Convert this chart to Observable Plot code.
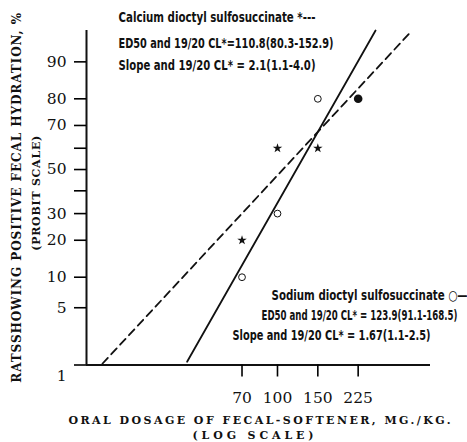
<!DOCTYPE html>
<html>
<head>
<meta charset="utf-8">
<script src="https://cdn.jsdelivr.net/npm/d3@7"></script>
<script src="https://cdn.jsdelivr.net/npm/@observablehq/plot@0.6"></script>
<style>
  html, body { margin: 0; padding: 0; background: #fff; overflow: hidden; }
  #chart { position: relative; width: 467px; height: 442px; }
  #chart svg { position: absolute; left: 0; top: 0; }
</style>
</head>
<body>
<div id="chart"></div>
<script>
// ---------- data ----------
const yTickLabels = [5, 10, 20, 30, 50, 70, 80, 90];
const yMinorTicks = [40, 60];
const yBottomTick = [1];
const xTickLabels = [70, 100, 150, 225];

const calciumDose = [70, 100, 150];
const calciumPct = [20, 60, 60];
const sodiumDose = [70, 100, 150];
const sodiumPct = [10, 30, 80];
const bothDose = [225];
const bothPct = [80];

const calciumFitDose = [17.2, 381];
const calciumFitPct = [1.04, 94.9];
const sodiumFitDose = [40.3, 268];
const sodiumFitPct = [1.11, 95.1];

const calciumText = [
  "Calcium dioctyl sulfosuccinate *---",
  "ED50 and 19/20 CL*=110.8(80.3-152.9)",
  "Slope and 19/20 CL* = 2.1(1.1-4.0)"
];
const sodiumText = [
  "Sodium dioctyl sulfosuccinate \u25CB\u2014",
  "ED50 and 19/20 CL* = 123.9(91.1-168.5)",
  "Slope and 19/20 CL* = 1.67(1.1-2.5)"
];
const xTitle = ["ORAL DOSAGE OF FECAL-SOFTENER, MG./KG.", "(LOG SCALE)"];
const yTitle = ["RATSSHOWING POSITIVE FECAL HYDRATION, %", "(PROBIT SCALE)"];

// ---------- probit (inverse normal CDF, Acklam) ----------
function probit(p) {
  const a = [-3.969683028665376e+01, 2.209460984245205e+02, -2.759285104469687e+02, 1.383577518672690e+02, -3.066479806614716e+01, 2.506628277459239e+00];
  const b = [-5.447609879822406e+01, 1.615858368580409e+02, -1.556989798598866e+02, 6.680131188771972e+01, -1.328068155288572e+01];
  const c = [-7.784894002430293e-03, -3.223964580411365e-01, -2.400758277161838e+00, -2.549671010114292e+00, 4.374664141464968e+00, 2.938163982698783e+00];
  const d = [7.784695709041462e-03, 3.224671290700398e-01, 2.445134137142996e+00, 3.754408661907416e+00];
  const plow = 0.02425, phigh = 1 - plow;
  let q, r;
  if (p < plow) {
    q = Math.sqrt(-2 * Math.log(p));
    return (((((c[0]*q+c[1])*q+c[2])*q+c[3])*q+c[4])*q+c[5]) / ((((d[0]*q+d[1])*q+d[2])*q+d[3])*q+1);
  }
  if (p > phigh) {
    q = Math.sqrt(-2 * Math.log(1 - p));
    return -(((((c[0]*q+c[1])*q+c[2])*q+c[3])*q+c[4])*q+c[5]) / ((((d[0]*q+d[1])*q+d[2])*q+d[3])*q+1);
  }
  q = p - 0.5; r = q * q;
  return (((((a[0]*r+a[1])*r+a[2])*r+a[3])*r+a[4])*r+a[5])*q / (((((b[0]*r+b[1])*r+b[2])*r+b[3])*r+b[4])*r+1);
}
const pz = pct => probit(pct / 100);

// ---------- tables ----------
const pts = (xs, ys) => xs.map((x, i) => ({dose: x, pct: ys[i]}));
const calcium = pts(calciumDose, calciumPct);
const sodium = pts(sodiumDose, sodiumPct);
const both = pts(bothDose, bothPct);
const calciumFit = pts(calciumFitDose, calciumFitPct);
const sodiumFit = pts(sodiumFitDose, sodiumFitPct);

// ---------- layout ----------
const W = 467, H = 442;
const xDomain = [14.66, 465.6];
const yDomain = [pz(1), pz(95.1)];
const serif = "DejaVu Serif";
const narrow = "DejaVu Sans Condensed, Liberation Sans Narrow, DejaVu Sans, sans-serif";
const frame = {
  width: W, height: H,
  marginLeft: 86, marginRight: 37, marginTop: 30, marginBottom: 77.5,
  x: {type: "log", domain: xDomain, axis: null},
  y: {type: "linear", domain: yDomain, axis: null}
};

const fitLengths = new Map([
  [calciumText[0], [197, "spacingAndGlyphs"]], [calciumText[1], [215, "spacingAndGlyphs"]], [calciumText[2], [197, "spacingAndGlyphs"]],
  [sodiumText[0], [196, "spacingAndGlyphs"]], [sodiumText[1], [196, "spacingAndGlyphs"]], [sodiumText[2], [198, "spacingAndGlyphs"]],
  [xTitle[0], [382, "spacing"]], [xTitle[1], [121, "spacing"]],
  [yTitle[0], [370, "spacing"]], [yTitle[1], [115, "spacing"]]
]);

const ann = (str, dx, dy) => Plot.text([str], {
  frameAnchor: "top-left", dx, dy, textAnchor: "start", lineAnchor: "middle",
  fontFamily: narrow, fontWeight: "bold", fontSize: 14, fill: "#111"
});
const title = (str, opts) => Plot.text([str], {
  textAnchor: "start", lineAnchor: "middle",
  fontFamily: serif, fontWeight: "bold", fill: "#111", ...opts
});

// ---------- main layer: data, labels, titles ----------
const chart = Plot.plot({
  ...frame,
  style: {fontFamily: serif, fontSize: "15.5px", background: "#fff"},
  marks: [
    Plot.line(calciumFit, {x: "dose", y: d => pz(d.pct), stroke: "#111", strokeWidth: 1.8, strokeDasharray: "8,5"}),
    Plot.line(sodiumFit, {x: "dose", y: d => pz(d.pct), stroke: "#111", strokeWidth: 1.8}),
    Plot.dot(calcium, {x: "dose", y: d => pz(d.pct), symbol: "star", r: 3, fill: "#111", stroke: "none"}),
    Plot.dot(sodium, {x: "dose", y: d => pz(d.pct), r: 3.4, fill: "#fff", stroke: "#111", strokeWidth: 1}),
    Plot.dot(both, {x: "dose", y: d => pz(d.pct), r: 4.3, fill: "#111", stroke: "none"}),
    Plot.text(yTickLabels, {y: d => pz(d), text: d => String(d), frameAnchor: "left",
      dx: -20, textAnchor: "end", fill: "#111"}),
    Plot.text(yBottomTick, {y: d => pz(d), text: d => String(d), frameAnchor: "left",
      dx: -20, dy: 11, textAnchor: "end", fill: "#111"}),
    Plot.text(xTickLabels, {x: d => d, text: d => String(d), frameAnchor: "bottom",
      dy: 33, lineAnchor: "middle", fill: "#111"}),
    ann(calciumText[0], 32, -13),
    ann(calciumText[1], 32, 13),
    ann(calciumText[2], 32, 35),
    ann(sodiumText[0], 185, 265),
    ann(sodiumText[1], 175, 285),
    ann(sodiumText[2], 146, 305),
    title(xTitle[0], {frameAnchor: "bottom", dx: -190, dy: 55, fontSize: 11}),
    title(xTitle[1], {frameAnchor: "bottom", dx: -66, dy: 70, fontSize: 11}),
    title(yTitle[0], {frameAnchor: "left", dx: -69, dy: 185, rotate: -90, fontSize: 12}),
    title(yTitle[1], {frameAnchor: "left", dx: -50, dy: 53, rotate: -90, fontSize: 11})
  ]
});

chart.querySelectorAll("text").forEach(t => {
  const f = fitLengths.get(t.textContent);
  if (f) {
    t.setAttribute("textLength", f[0]);
    t.setAttribute("lengthAdjust", f[1]);
  }
});

// ---------- axis layer: axis lines and ticks, same scales ----------
const axes = Plot.plot({
  ...frame,
  style: {background: "transparent"},
  marks: [
    Plot.ruleX([xDomain[0]], {stroke: "#111", strokeWidth: 2}),
    Plot.ruleY([yDomain[0]], {stroke: "#111", strokeWidth: 2}),
    Plot.axisY([...yBottomTick, ...yTickLabels, ...yMinorTicks].map(pz),
      {tickSize: 12, strokeWidth: 1.6, tickFormat: () => "", label: null}),
    Plot.axisX(xTickLabels, {tickSize: 12, strokeWidth: 1.6, tickFormat: () => "", label: null})
  ]
});

const host = document.getElementById("chart");
host.appendChild(chart);
host.appendChild(axes);
</script>
</body>
</html>
